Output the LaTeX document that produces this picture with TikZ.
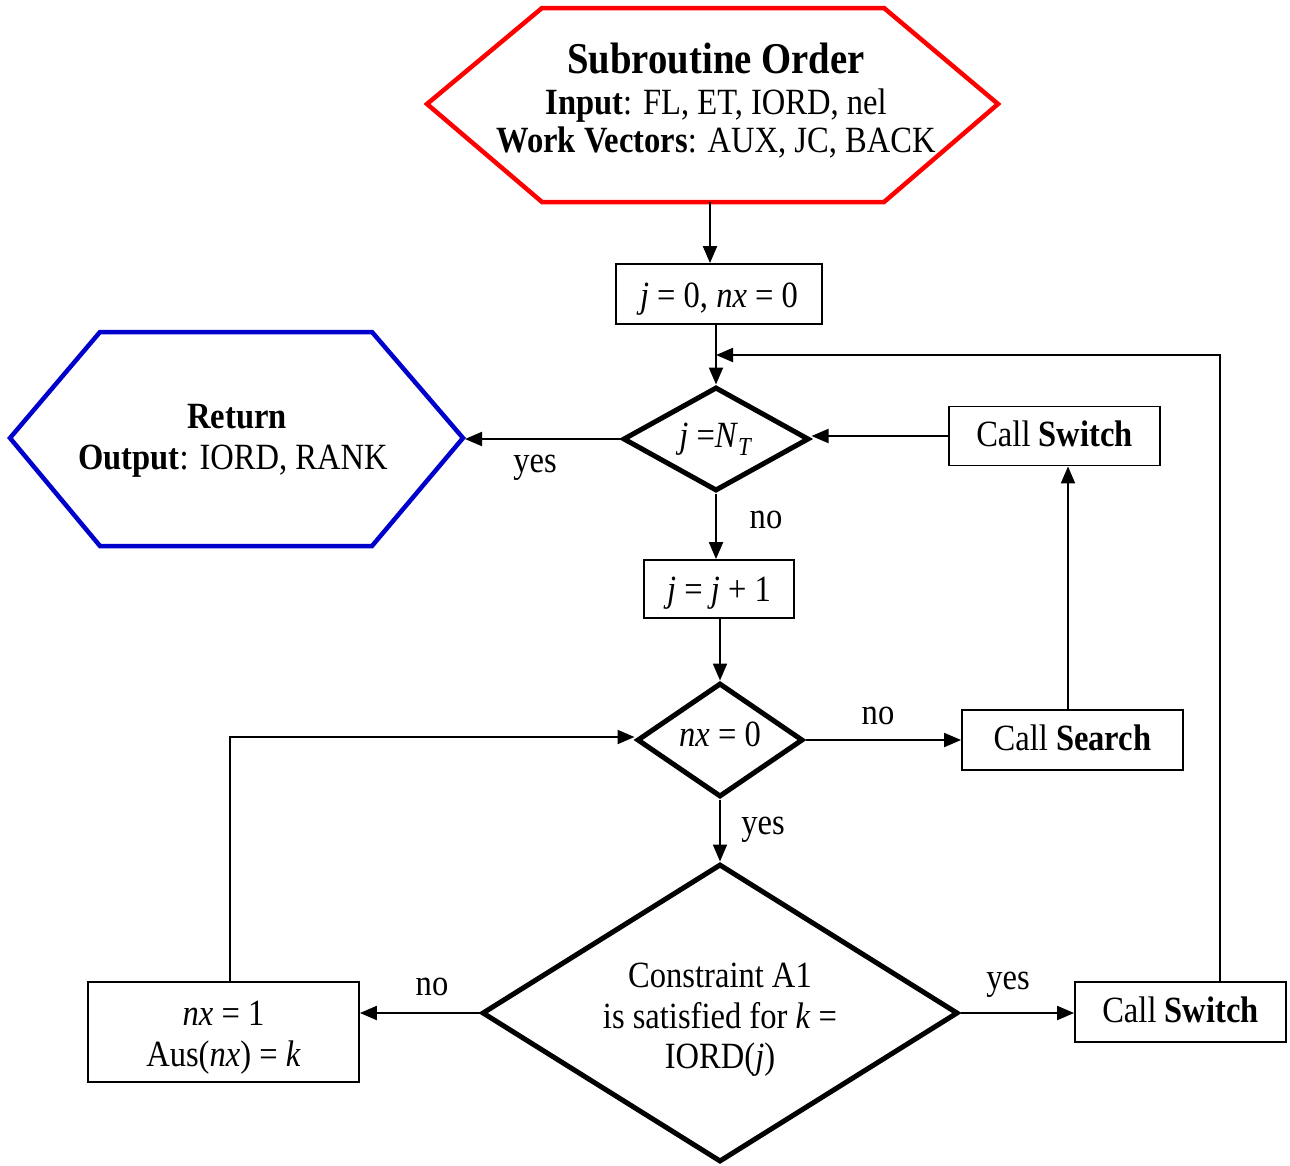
\documentclass[tikz,border=0pt]{standalone}
\usepackage{fontspec}
\setmainfont{Liberation Serif}[FakeStretch=0.88]
\usetikzlibrary{arrows.meta,shapes.geometric}
\definecolor{startred}{HTML}{FF0000}
\definecolor{endblue}{HTML}{0000CC}
% shift a (possibly multi-line) label down without changing its box
\newcommand{\dropby}[2]{\raisebox{-#1}[\height][\depth]{\begin{tabular}{@{}c@{}}#2\end{tabular}}}
\begin{document}
\begin{tikzpicture}[x=1pt,y=-1pt,
  every node/.style={font=\fontsize{37}{40.5}\selectfont},
  procbox/.style n args={2}{draw,line width=1.8pt,rectangle,
    minimum width=#1,minimum height=#2,inner sep=0pt,align=center},
  decision/.style n args={3}{draw,line width=5pt,diamond,aspect=#3,
    minimum width=#1,minimum height=#2,inner sep=0pt,align=center},
  hexline/.style={line width=4.5pt,line join=miter},
  conn/.style={line width=2pt,-{Triangle[length=17pt,width=14pt]}},
  lbl/.style={inner sep=0pt},
  txt/.style={inner sep=0pt,anchor=base}]
\useasboundingbox (0,0) rectangle (1290,1165);

% start terminal
\draw[hexline,draw=startred] (427,104) -- (542,8) -- (884,8) -- (998,104)
  -- (884,202) -- (542,202) -- cycle;
\node[txt,font=\fontsize{44}{44}\selectfont\bfseries] (start-title) at (716,73) {Subroutine Order};
\node[txt] (start-in) at (716,114) {\textbf{Input}: FL, ET, IORD, nel};
\node[txt] (start-work) at (716,152) {\textbf{Work Vectors}: AUX, JC, BACK};
\coordinate (start-s) at (710,202);

% return terminal
\draw[hexline,draw=endblue] (10,438) -- (100,332) -- (372,332) -- (463,438)
  -- (372,546) -- (100,546) -- cycle;
\node[txt,font=\fontsize{37}{40}\selectfont\bfseries] (ret-title) at (237,428) {Return};
\node[txt] (ret-out) at (233,469) {\textbf{Output}: IORD, RANK};
\coordinate (ret-e) at (465,439);

% process boxes
\node[procbox={206pt}{60pt}] (init) at (719,294) {\dropby{5pt}{\textit{j} = 0, \textit{nx} = 0}};
\node[procbox={211pt}{59pt}] (sw1) at (1054.5,436) {\dropby{2pt}{Call \textbf{Switch}}};
\node[procbox={150pt}{58pt}] (inc) at (719,589) {\dropby{4pt}{\textit{j} = \textit{j} + 1}};
\node[procbox={221pt}{60pt}] (search) at (1072.5,740) {\dropby{2pt}{Call \textbf{Search}}};
\node[procbox={271pt}{100pt}] (setnx) at (223.5,1032) {\dropby{6pt}{\textit{nx} = 1\\Aus(\textit{nx}) = \textit{k}}};
\node[procbox={211pt}{60pt}] (sw2) at (1180.5,1012) {\dropby{2pt}{Call \textbf{Switch}}};

% decisions
\node[decision={186pt}{104pt}{1.79}] (d1) at (716,439) {\textit{j} =\textit{N}\textsubscript{\textit{T}}};
\node[decision={166pt}{114pt}{1.46}] (d2) at (720,740) {\dropby{-2pt}{\textit{nx} = 0}};
\node[decision={476pt}{298pt}{1.6}] (d3) at (720,1013) {\dropby{7pt}{Constraint A1\\is satisfied for \textit{k} =\\IORD(\textit{j})}};

% loop-back corner
\coordinate (loop) at (1220,355);

% connectors
\draw[conn] (start-s) -- (start-s |- init.north);
\draw[conn] (d1.north |- init.south) -- (d1.north);
\draw[conn] (d1.west) -- (ret-e);
\draw[conn] (d1.south) -- (d1.south |- inc.north);
\draw[conn] (d2.north |- inc.south) -- (d2.north);
\draw[conn] (d2.east) -- (search.west);
\draw[conn] ([xshift=-4.5pt]search.north) -- ([xshift=-4.5pt]search.north |- sw1.south);
\draw[conn] (sw1.west) -- (sw1.west -| d1.east);
\draw[conn] (d2.south) -- (d3.north);
\draw[conn] (d3.west) -- (d3.west -| setnx.east);
\draw[conn] ([xshift=6.5pt]setnx.north) |- ([yshift=3pt]d2.west);
\draw[conn] (d3.east) -- (d3.east -| sw2.west);
\draw[conn] (sw2.north -| loop) -- (loop) -- (loop -| d1.north);

% branch labels
\node[lbl] (l-yes1) at (535,468) {yes};
\node[lbl] (l-no1) at (766,520) {no};
\node[lbl] (l-no2) at (878,716) {no};
\node[lbl] (l-yes2) at (763,830) {yes};
\node[lbl] (l-no3) at (432,987) {no};
\node[lbl] (l-yes3) at (1008,985) {yes};
\end{tikzpicture}
\end{document}
